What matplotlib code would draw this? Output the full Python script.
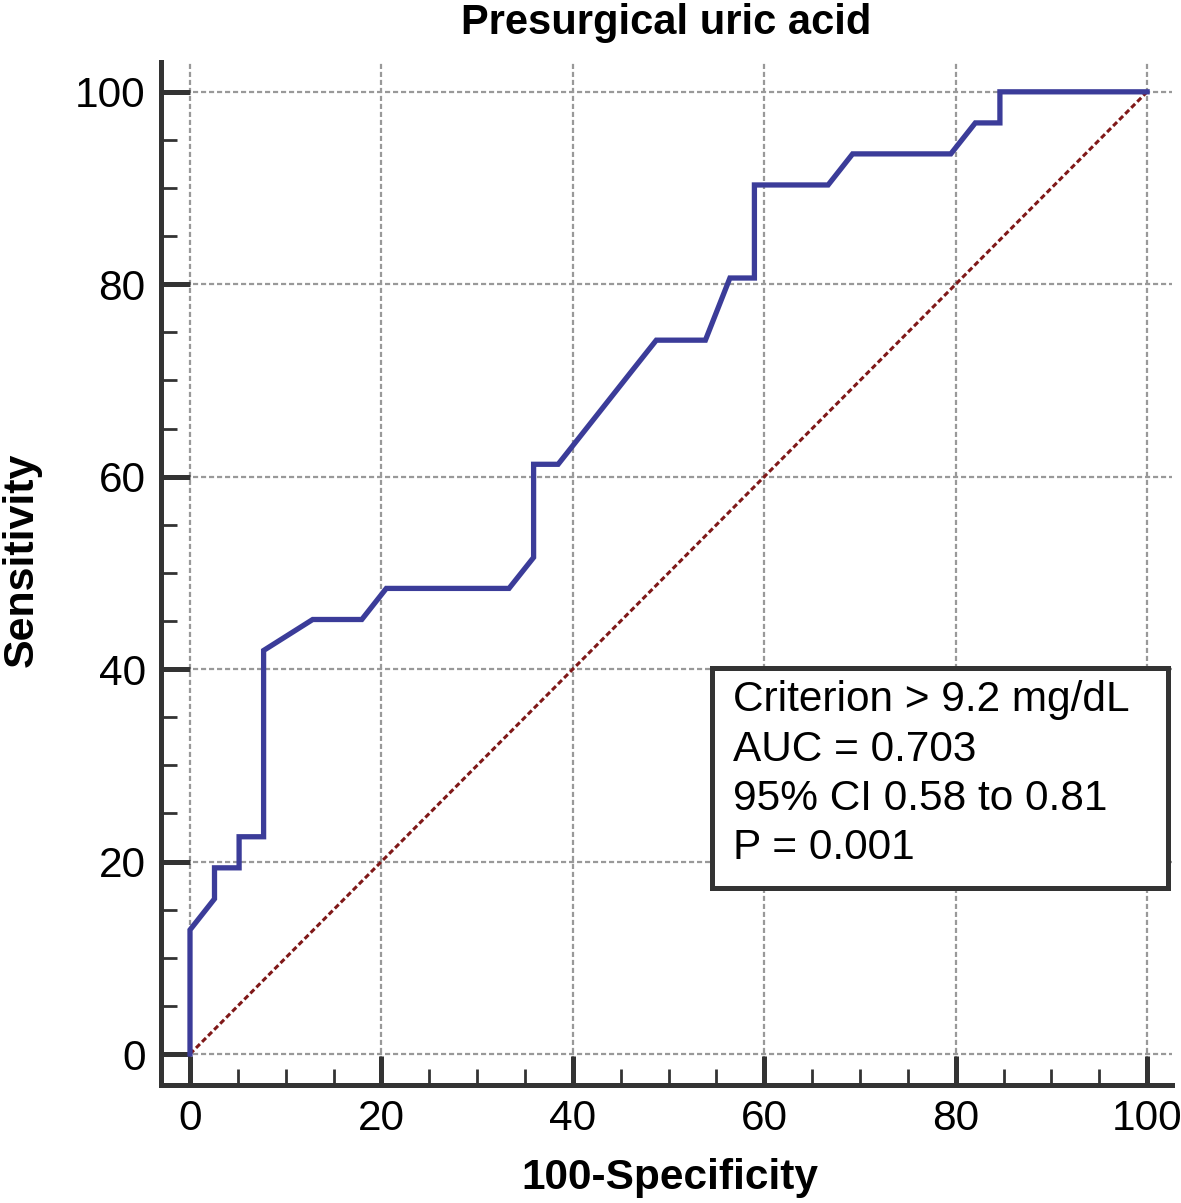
import matplotlib
matplotlib.use("Agg")
import matplotlib.pyplot as plt
from matplotlib.patches import Rectangle
from matplotlib.ticker import MultipleLocator

plt.rcParams['font.family'] = ['Liberation Sans', 'DejaVu Sans']

# ROC curve vertices (100-Specificity, Sensitivity)
fpr = [0, 0, 2.56, 2.56, 5.13, 5.13, 7.69, 7.69, 12.82, 17.95, 20.51, 33.33,
       35.90, 35.90, 38.46, 46.15, 48.72, 53.85, 56.41, 58.97, 58.97, 66.67,
       69.23, 79.49, 82.05, 84.62, 84.62, 100]
tpr = [0, 12.90, 16.13, 19.35, 19.35, 22.58, 22.58, 41.94, 45.16, 45.16, 48.39,
       48.39, 51.61, 61.29, 61.29, 70.97, 74.19, 74.19, 80.65, 80.65, 90.32,
       90.32, 93.55, 93.55, 96.77, 96.77, 100, 100]
ref_x = [0, 100]
ref_y = [0, 100]

title = "Presurgical uric acid"
xlabel = "100-Specificity"
ylabel = "Sensitivity"
box_lines = ["Criterion > 9.2 mg/dL", "AUC = 0.703", "95% CI 0.58 to 0.81", "P = 0.001"]
ticks = [0, 20, 40, 60, 80, 100]

W, H = 1181, 1203
fig = plt.figure(figsize=(W / 100, H / 100), dpi=100)
ax = fig.add_axes([161 / W, (H - 1085) / H, 1011 / W, 1023 / H])

ax.set_xlim(-3.03, 102.6)
ax.set_ylim(-3.22, 103.1)

spine_c = '#333333'
for s in ['top', 'right']:
    ax.spines[s].set_visible(False)
for s in ['left', 'bottom']:
    ax.spines[s].set_color(spine_c)
    ax.spines[s].set_linewidth(3.6)
    ax.spines[s].set_capstyle('projecting')

ax.set_xticks(ticks)
ax.set_yticks(ticks)
ax.xaxis.set_minor_locator(MultipleLocator(5))
ax.yaxis.set_minor_locator(MultipleLocator(5))
ax.tick_params(which='major', direction='in', length=21, width=3.6, color=spine_c,
               labelsize=30.5, pad=10)
ax.tick_params(which='minor', direction='in', length=11.5, width=2.0, color=spine_c)
ax.tick_params(axis='y', which='major', pad=11)

ax.grid(True, which='major', color='#999999', linewidth=1.6, linestyle=(0, (2.3, 1.3)))
ax.set_axisbelow(True)

ax.plot(ref_x, ref_y, color='#7F1818', linewidth=2.2, linestyle=(0, (1.8, 1.0)), zorder=3)
ax.plot(fpr, tpr, color='#3B3C99', linewidth=3.8, solid_joinstyle='miter', zorder=4,
        clip_on=False)

ax.set_title(title, fontsize=30, fontweight='bold', pad=20)
ax.set_xlabel(xlabel, fontsize=30.5, fontweight='bold')
ax.set_ylabel(ylabel, fontsize=31, fontweight='bold')
ax.xaxis.set_label_coords(0.5035, -0.0714)
ax.yaxis.set_label_coords(-0.1177, 0.513)

rect = Rectangle((0.545, 0.1926), 0.996 - 0.545, 0.4076 - 0.1926, transform=ax.transAxes,
                 facecolor='white', edgecolor=spine_c, linewidth=3.6, zorder=5, clip_on=False)
ax.add_patch(rect)
ax.text(0.566, 0.3955, "\n".join(box_lines), transform=ax.transAxes, fontsize=30.5,
        va='top', ha='left', linespacing=1.30, zorder=6)

fig.savefig('out.png', dpi=100)
